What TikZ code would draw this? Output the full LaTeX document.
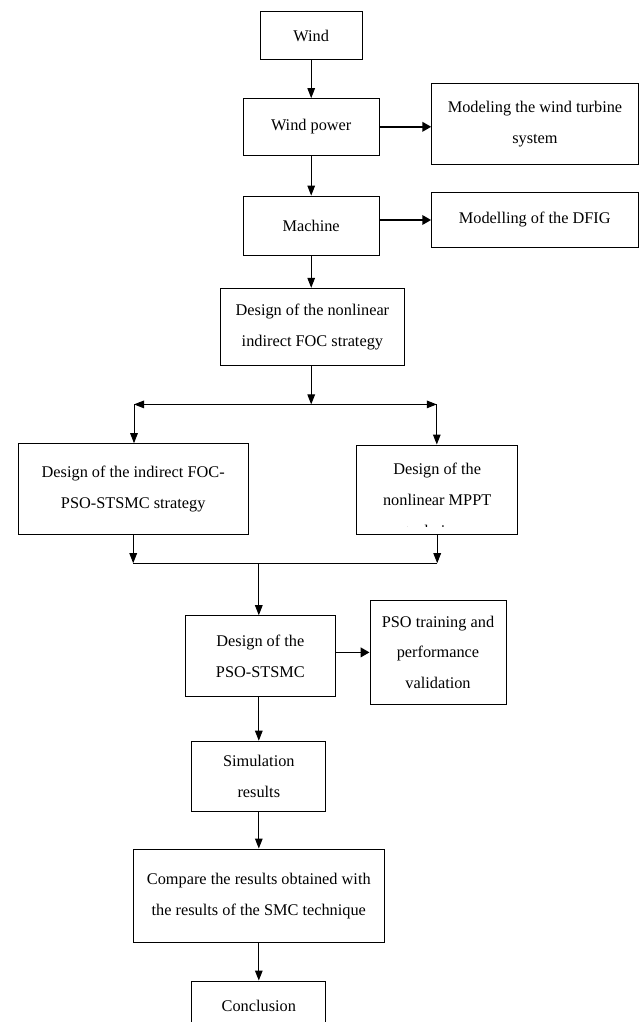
\documentclass[tikz,border=0pt]{standalone}
\usepackage{fontspec}
\setmainfont{Liberation Serif}
\usetikzlibrary{arrows.meta}
\newcommand{\boxfont}{\fontsize{11.6}{22}\selectfont}
\tikzset{
  blk/.style={rectangle,draw=black,line width=0.7pt,align=center,inner sep=0pt,font=\boxfont},
  txt/.style={align=center,inner sep=0pt,font=\boxfont},
  edge/.style={-{Triangle[length=2.5mm,width=1.9mm]},line width=0.7pt},
  sedge/.style={-{Triangle[length=2.2mm,width=2.4mm]},line width=1.1pt}
}
\begin{document}
\begin{tikzpicture}
  \clip (0,0) rectangle (16,-25.55);

  \node[blk,minimum width=2.56cm,minimum height=1.19cm] (wind) at (7.78,-0.89) {Wind};
  \node[blk,minimum width=3.39cm,minimum height=1.41cm] (power) at (7.78,-3.17) {Wind power};
  \node[blk,minimum width=5.165cm,minimum height=2.025cm] (turbine) at (13.375,-3.11) {Modeling the wind turbine\\system};
  \node[blk,minimum width=3.39cm,minimum height=1.475cm] (machine) at (7.78,-5.64) {Machine};
  \node[blk,minimum width=5.16cm,minimum height=1.365cm] (dfig) at (13.37,-5.5) {Modelling of the DFIG};
  \node[blk,minimum width=4.6cm,minimum height=1.935cm] (foc) at (7.81,-8.175) {Design of the nonlinear\\indirect FOC strategy};
  \node[blk,minimum width=5.74cm,minimum height=2.265cm] (indfoc) at (3.33,-12.225) {Design of the indirect FOC-\\PSO-STSMC strategy};
  \node[blk,minimum width=4.03cm,minimum height=2.23cm,
    path picture={
      \clip ([yshift=0.19cm]path picture bounding box.south west) rectangle (path picture bounding box.north east);
      \node[txt] at ([yshift=-0.3cm]path picture bounding box.center) {Design of the\\nonlinear MPPT\\technique};}] (mppt) at (10.93,-12.24) {};
  \node[blk,minimum width=3.74cm,minimum height=2.025cm] (stsmc) at (6.51,-16.405) {Design of the\\PSO-STSMC};
  \node[blk,minimum width=3.4cm,minimum height=2.58cm] (train) at (10.95,-16.31) {PSO training and\\performance\\validation};
  \node[blk,minimum width=3.35cm,minimum height=1.76cm] (sim) at (6.47,-19.41) {Simulation\\results};
  \node[blk,minimum width=6.275cm,minimum height=2.34cm] (compare) at (6.47,-22.395) {Compare the results obtained with\\the results of the SMC technique};
  \node[blk,minimum width=3.35cm,minimum height=1.25cm] (concl) at (6.47,-25.15) {Conclusion};

  \coordinate (split) at (7.78,-10.11);
  \coordinate (barL) at (3.35,-10.11);
  \coordinate (barR) at (10.92,-10.11);
  \coordinate (join) at (6.47,-14.08);

  \draw[edge] (wind.south) -- (power.north);
  \draw[edge] (power.south) -- (machine.north);
  \draw[edge] (machine.south) -- (machine.south |- foc.north);
  \draw[sedge] (power.east) -- (power.east -| turbine.west);
  \draw[sedge] (machine.east |- dfig.west) -- (dfig.west);
  \draw[edge] (foc.south -| split) -- (split);
  \draw[edge] (split) -- (barL);
  \draw[edge] (split) -- (barR);
  \draw[edge] (barL) -- (barL |- indfoc.north);
  \draw[edge] (barR) -- (barR |- mppt.north);
  \draw[edge] (indfoc.south) -- (indfoc.south |- join);
  \draw[edge] (mppt.south) -- (mppt.south |- join);
  \draw[line width=0.7pt] (indfoc.south |- join) -- (mppt.south |- join);
  \draw[edge] (join) -- (join |- stsmc.north);
  \draw[sedge] (stsmc.east |- train.west) -- (train.west);
  \draw[edge] (stsmc.south -| join) -- (sim.north);
  \draw[edge] (sim.south) -- (compare.north);
  \draw[edge] (compare.south) -- (concl.north);
\end{tikzpicture}
\end{document}
